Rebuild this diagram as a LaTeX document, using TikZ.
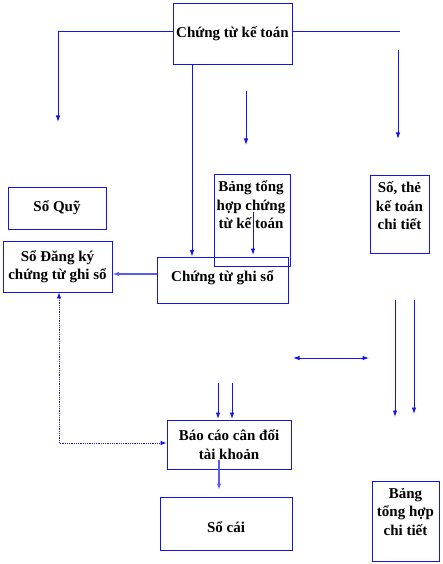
\documentclass[tikz,border=0pt]{standalone}
\usepackage{fontspec}
\setmainfont{Liberation Serif}
\usetikzlibrary{arrows.meta}
\definecolor{lineblue}{RGB}{20,20,235}
\definecolor{lightblue}{RGB}{90,90,245}
\tikzset{
  box/.style={draw=lineblue, line width=0.9pt, inner sep=0pt},
  txt/.style={font=\fontsize{15}{18.5}\selectfont\bfseries, align=center, inner sep=0pt},
  conn/.style={draw=lineblue, line width=0.9pt},
  arr/.style={conn, -{Latex[length=6.5pt,width=4.5pt]}},
  thickarr/.style={arr, draw=lightblue, line width=1.5pt},
  darr/.style={conn, {Latex[length=6.5pt,width=4.5pt]}-{Latex[length=6.5pt,width=4.5pt]}},
  dotarr/.style={conn, line width=0.8pt, densely dotted, {Latex[length=6pt,width=4.5pt]}-{Latex[length=6pt,width=4.5pt]}}
}
\begin{document}
\begin{tikzpicture}[x=1pt,y=-1pt]
\useasboundingbox (0,0) rectangle (442,564);
% boxes
\node[box, txt, minimum width=119pt, minimum height=61pt] (ct) at (232.5,33.5) {Chứng từ kế toán};
\node[box, txt, minimum width=98pt, minimum height=42pt] (sq) at (57,208) {Sổ Quỹ};
\node[box, txt, minimum width=109pt, minimum height=51pt] (sdk) at (57.5,266.5) {Sổ Đăng ký\\chứng từ ghi sổ};
\node[box, txt, minimum width=131pt, minimum height=46pt, text depth=8pt] (ctgs) at (222.5,280) {Chứng từ ghi sổ};
\node[box, minimum width=76pt, minimum height=92pt] (bth) at (252,220) {};
\node[txt] (bthT) at (251,205) {Bảng tổng\\hợp chứng\\từ kế toán};
\node[box, minimum width=59pt, minimum height=78pt] (stk) at (399.5,214) {};
\node[txt] (stkT) at (399.5,206) {Số, thẻ\\kế toán\\chi tiết};
\node[box, txt, minimum width=124pt, minimum height=49pt] (bc) at (229,444.5) {Báo cáo cân đối\\tài khoản};
\node[box, minimum width=132pt, minimum height=53pt] (sc) at (226,523.5) {};
\node[txt] (scT) at (226,527) {Sổ cái};
\node[box, minimum width=67pt, minimum height=80pt] (bthct) at (405.5,521) {};
\node[txt] (bthctT) at (405.5,512) {Bảng\\tổng hợp\\chi tiết};
% coordinates
\coordinate (L1) at (58,31);
\coordinate (L2) at (58,122);
\coordinate (R1) at (400,31);
\coordinate (R2a) at (398,50);
\coordinate (R2b) at (398,139);
\coordinate (V1) at (192,64);
\coordinate (M1a) at (246,91);
\coordinate (M1b) at (246,145);
\coordinate (M2a) at (253,212);
\coordinate (M2b) at (253,255);
\coordinate (D1) at (59,443);
\coordinate (H1a) at (293,358);
\coordinate (H1b) at (369,358);
\coordinate (P1a) at (218,383);
\coordinate (P1b) at (218,419);
\coordinate (P2a) at (232,383);
\coordinate (P2b) at (232,419);
\coordinate (Q1a) at (395,300);
\coordinate (Q1b) at (395,417);
\coordinate (Q2a) at (414,300);
\coordinate (Q2b) at (414,414);
\coordinate (S1a) at (219,460);
\coordinate (S1b) at (219,490);
% connectors
\draw[arr] (ct.west |- L1) -- (L1) -- (L2);
\draw[conn] (ct.east |- R1) -- (R1);
\draw[arr] (R2a) -- (R2b);
\draw[arr] (V1) -- (V1 |- ctgs.north);
\draw[arr] (M1a) -- (M1b);
\draw[arr] (M2a) -- (M2b);
\draw[thickarr] (ctgs.west |- 0,274) -- (sdk.east |- 0,274);
\draw[dotarr] (sdk.south -| D1) -- (D1) -- (bc.west |- D1);
\draw[darr] (H1a) -- (H1b);
\draw[arr] (P1a) -- (P1b);
\draw[arr] (P2a) -- (P2b);
\draw[arr] (Q1a) -- (Q1b);
\draw[arr] (Q2a) -- (Q2b);
\draw[thickarr] (S1a) -- (S1b);
\end{tikzpicture}
\end{document}
